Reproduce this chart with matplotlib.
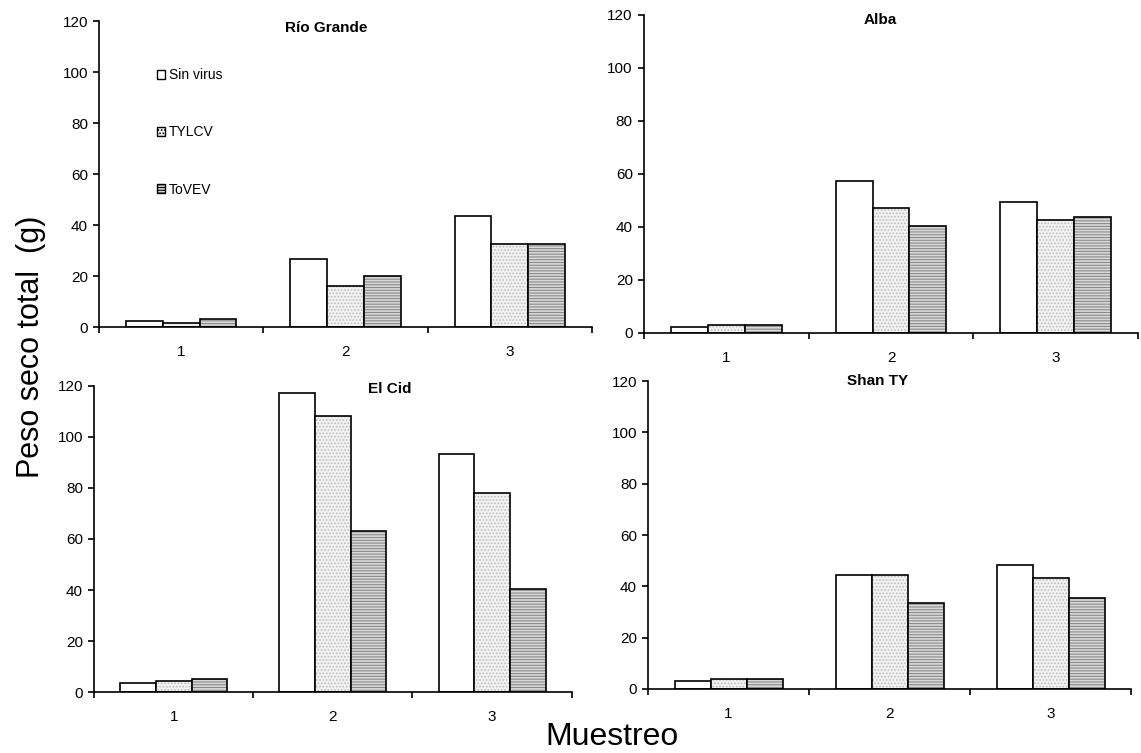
import numpy as np
import matplotlib.pyplot as plt
from matplotlib.patches import Patch

plt.rcParams['font.family'] = ['Liberation Sans', 'DejaVu Sans']
plt.rcParams['hatch.linewidth'] = 0.8

# dry weight (g) per sampling, one list per treatment
muestreo = ['1', '2', '3']
series = ['Sin virus', 'TYLCV', 'ToVEV']

rio_grande = [[2.3, 26.5, 43.5], [1.7, 15.9, 32.4], [3.0, 20.1, 32.4]]
alba = [[2.4, 57.2, 49.6], [3.1, 47.0, 42.5], [3.1, 40.2, 43.6]]
el_cid = [[3.5, 117.4, 93.3], [4.5, 108.2, 77.9], [5.0, 63.1, 40.5]]
shan_ty = [[3.0, 44.4, 48.5], [4.0, 44.4, 43.3], [4.0, 33.7, 35.6]]

# fill, hatch, hatch colour for each treatment
styles = [
    ('white', '', 'white'),
    ('#f2f2f2', '.....', '#bdbdbd'),
    ('#d9d9d9', '------', '#8a8a8a'),
]

panels = [
    ('Río Grande', rio_grande, [0.0868, 0.5657, 0.432, 0.4064], (0.46, 0.977)),
    ('Alba', alba, [0.5644, 0.5578, 0.433, 0.4223], (0.478, 0.985)),
    ('El Cid', el_cid, [0.0825, 0.0810, 0.4185, 0.4064], (0.62, 0.99)),
    ('Shan TY', shan_ty, [0.5680, 0.0850, 0.4235, 0.4090], (0.475, 1.0)),
]

fig = plt.figure(figsize=(11.41, 7.53), dpi=100)

width = 0.224
x = np.arange(1, 4)

for k, (name, data, rect, tpos) in enumerate(panels):
    ax = fig.add_axes(rect)
    for i, vals in enumerate(data):
        fc, hatch, hc = styles[i]
        pos = x + (i - 1) * width
        # patterned fill first, then the black outline on top
        ax.bar(pos, vals, width, color=fc, hatch=hatch, edgecolor=hc, linewidth=0)
        ax.bar(pos, vals, width, fill=False, edgecolor='black', linewidth=1.2)

    ax.set_xlim(0.5, 3.5)
    ax.set_ylim(0, 120)
    ax.set_yticks(range(0, 121, 20))
    # tick marks between groups, labels centred under each group
    ax.set_xticks([0.5, 1.5, 2.5, 3.5])
    ax.set_xticklabels([])
    ax.set_xticks(x, minor=True)
    ax.set_xticklabels(muestreo, minor=True)
    ax.tick_params(axis='x', which='minor', length=0, pad=13, labelsize=11)
    ax.tick_params(axis='x', which='major', length=4, width=1.2, direction='out')
    ax.tick_params(axis='y', length=4, width=1.2, direction='out', labelsize=11, pad=4)
    for s in ['top', 'right']:
        ax.spines[s].set_visible(False)
    for s in ['left', 'bottom']:
        ax.spines[s].set_linewidth(1.2)

    ax.text(tpos[0], tpos[1], name, transform=ax.transAxes, ha='center', va='center',
            fontsize=11, fontweight='bold')

    if k == 0:
        handles = [Patch(facecolor=fc, hatch=h, edgecolor='black', linewidth=1.0)
                   for fc, h, hc in styles]
        ax.legend(handles, series, loc='upper left', bbox_to_anchor=(0.117, 0.845),
                  frameon=False, fontsize=10, handlelength=0.6, handleheight=0.6,
                  handletextpad=0.3, labelspacing=3.1, borderpad=0, borderaxespad=0)

fig.text(0.027, 0.54, 'Peso seco total  (g)', rotation=90, ha='center', va='center', fontsize=22)
fig.text(0.536, 0.021, 'Muestreo', ha='center', va='center', fontsize=23)

fig.savefig('out.png', dpi=100)
